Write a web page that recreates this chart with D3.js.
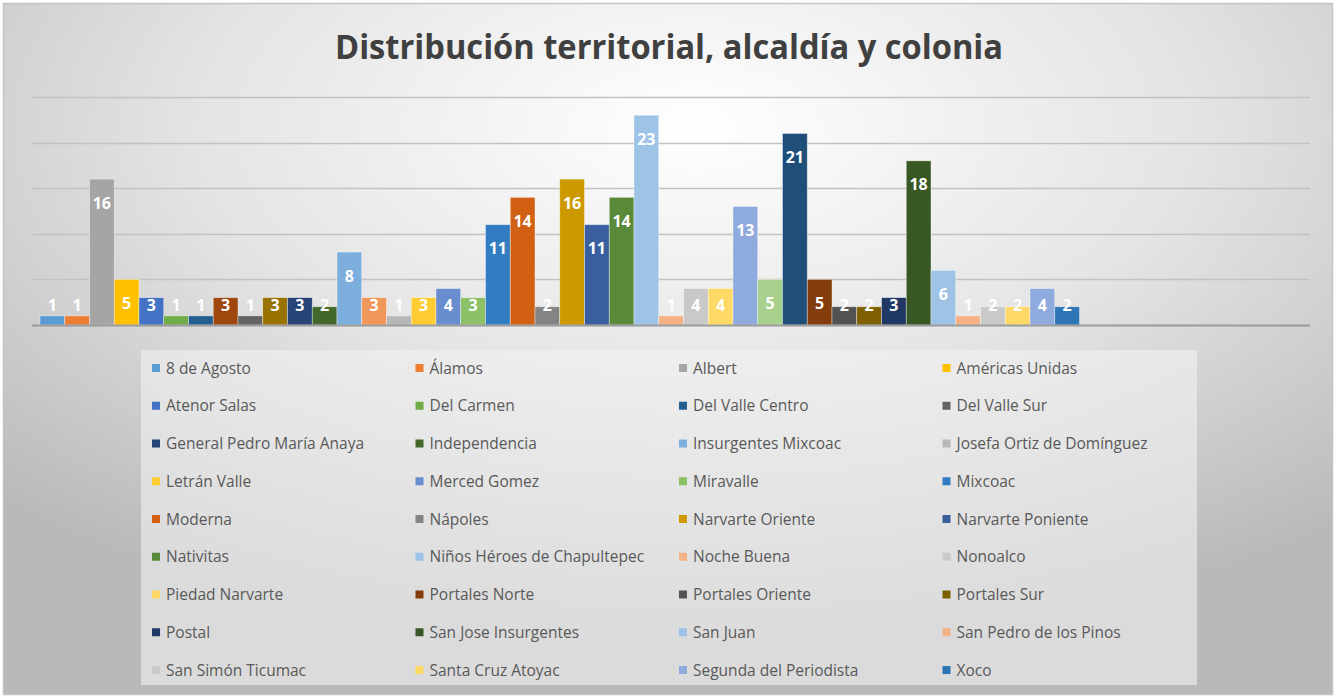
<!DOCTYPE html>
<html lang="es">
<head>
<meta charset="UTF-8">
<title>Distribución territorial, alcaldía y colonia</title>
<script src="https://cdn.jsdelivr.net/npm/d3@7/dist/d3.min.js"></script>
<style>
    body { margin: 0; background: #fff; }
    svg text { font-family: "Open Sans", "DejaVu Sans", sans-serif; }
</style>
</head>
<body>
<div id="chart"></div>
<script>
// one column per colonia; null = series whose legend entry was removed
var colonias = [
    "8 de Agosto", "Álamos", "Albert", "Américas Unidas", "Atenor Salas", "Del Carmen",
    "Del Valle Centro", null, "Del Valle Sur", null, "General Pedro María Anaya", "Independencia",
    "Insurgentes Mixcoac", null, "Josefa Ortiz de Domínguez", "Letrán Valle", "Merced Gomez", "Miravalle",
    "Mixcoac", "Moderna", "Nápoles", "Narvarte Oriente", "Narvarte Poniente", "Nativitas",
    "Niños Héroes de Chapultepec", "Noche Buena", "Nonoalco", "Piedad Narvarte", null, null,
    null, "Portales Norte", "Portales Oriente", "Portales Sur", "Postal", "San Jose Insurgentes",
    "San Juan", "San Pedro de los Pinos", "San Simón Ticumac", "Santa Cruz Atoyac", "Segunda del Periodista", "Xoco"
];
var valores = [
    1, 1, 16, 5, 3, 1,
    1, 3, 1, 3, 3, 2,
    8, 3, 1, 3, 4, 3,
    11, 14, 2, 16, 11, 14,
    23, 1, 4, 4, 13, 5,
    21, 5, 2, 2, 3, 18,
    6, 1, 2, 2, 4, 2
];
var colores = [
    "#5b9bd5", "#ed7d31", "#a5a5a5", "#ffc000", "#4472c4", "#70ad47",
    "#255e91", "#9e480e", "#636363", "#997300", "#264478", "#43682b",
    "#7cafdd", "#f1975a", "#b7b7b7", "#ffcd33", "#698ed0", "#8cc168",
    "#327dc2", "#d26012", "#848484", "#cc9a00", "#3a5fa0", "#5a8a39",
    "#9dc3e6", "#f4b183", "#c9c9c9", "#ffd966", "#8faadc", "#a9d18e",
    "#1f4e79", "#843c0c", "#525252", "#7f6000", "#203864", "#385723",
    "#9fc3e7", "#f4b183", "#c9c9c9", "#ffd966", "#8faadc", "#2e75b6"
];
var yTicks = [0, 5, 10, 15, 20, 25];

var W = 1336, H = 698;

var svg = d3.select("#chart").append("svg")
    .attr("width", W)
    .attr("height", H);

var defs = svg.append("defs");
var grad = defs.append("radialGradient")
    .attr("id", "bg")
    .attr("cx", "52%").attr("cy", "18%")
    .attr("r", "75%");
grad.append("stop").attr("offset", "0%").attr("stop-color", "#ffffff");
grad.append("stop").attr("offset", "50%").attr("stop-color", "#e4e4e4");
grad.append("stop").attr("offset", "100%").attr("stop-color", "#b9b9b9");

svg.append("rect")
    .attr("x", 3.5).attr("y", 3.5)
    .attr("width", W - 7).attr("height", H - 7)
    .attr("fill", "url(#bg)")
    .attr("stroke", "#c4c4c4")
    .attr("stroke-width", 1.5);

// title
svg.append("text")
    .attr("x", 669)
    .attr("y", 59)
    .attr("text-anchor", "middle")
    .attr("font-size", 34)
    .attr("font-weight", 700)
    .attr("fill", "#404040")
    .attr("textLength", 668)
    .attr("lengthAdjust", "spacingAndGlyphs")
    .text("Distribución territorial, alcaldía y colonia");

// plot area
var plot = { left: 32, right: 1310, top: 97, bottom: 325 };

var y = d3.scaleLinear()
    .domain([0, 25])
    .range([plot.bottom, plot.top]);

var x = d3.scaleBand()
    .domain(d3.range(valores.length))
    .range([40, 40 + valores.length * 24.75])
    .padding(0);

svg.append("g")
    .selectAll("line")
    .data(yTicks.filter(function(t) { return t > 0; }))
    .enter().append("line")
    .attr("x1", plot.left).attr("x2", plot.right)
    .attr("y1", function(d) { return Math.round(y(d)) + 0.5; })
    .attr("y2", function(d) { return Math.round(y(d)) + 0.5; })
    .attr("stroke", "#c2c2c2")
    .attr("stroke-width", 1.5);

var datos = valores.map(function(v, i) {
    return { i: i, nombre: colonias[i], valor: v, color: colores[i] };
});

svg.append("g")
    .selectAll("rect")
    .data(datos)
    .enter().append("rect")
    .attr("x", function(d) { return x(d.i); })
    .attr("y", function(d) { return y(d.valor); })
    .attr("width", x.bandwidth())
    .attr("height", function(d) { return y(0) - y(d.valor); })
    .attr("fill", function(d) { return d.color; })
    .attr("stroke", "rgba(255,255,255,0.55)")
    .attr("stroke-width", 0.7);

// axis line
svg.append("line")
    .attr("x1", plot.left).attr("x2", plot.right)
    .attr("y1", y(0) + 0.5).attr("y2", y(0) + 0.5)
    .attr("stroke", "#9a9a9a")
    .attr("stroke-width", 2);

// data labels, inside end
svg.append("g")
    .selectAll("text")
    .data(datos)
    .enter().append("text")
    .attr("x", function(d) { return x(d.i) + x.bandwidth() / 2; })
    .attr("y", function(d) { return Math.min(y(d.valor) + 23.5, y(0) - 20) + 6; })
    .attr("text-anchor", "middle")
    .attr("font-size", 16)
    .attr("font-weight", 700)
    .attr("fill", "#ffffff")
    .text(function(d) { return d.valor; });

// legend
var leyenda = datos.filter(function(d) { return d.nombre !== null; });
var legendBox = { x: 141, y: 350, w: 1056, h: 335 };
var colW = 263.5, rowH = 37.75;

svg.append("rect")
    .attr("x", legendBox.x).attr("y", legendBox.y)
    .attr("width", legendBox.w).attr("height", legendBox.h)
    .attr("fill", "#f2f2f2")
    .attr("fill-opacity", 0.6);

var item = svg.append("g")
    .selectAll("g")
    .data(leyenda)
    .enter().append("g")
    .attr("transform", function(d, k) {
        return "translate(" + (152 + (k % 4) * colW) + "," + (368 + Math.floor(k / 4) * rowH) + ")";
    });

item.append("rect")
    .attr("x", 0).attr("y", -4)
    .attr("width", 8).attr("height", 8)
    .attr("fill", function(d) { return d.color; });

item.append("text")
    .attr("x", 14)
    .attr("y", 5.5)
    .attr("font-size", 15.5)
    .attr("fill", "#595959")
    .text(function(d) { return d.nombre; });
</script>
</body>
</html>
